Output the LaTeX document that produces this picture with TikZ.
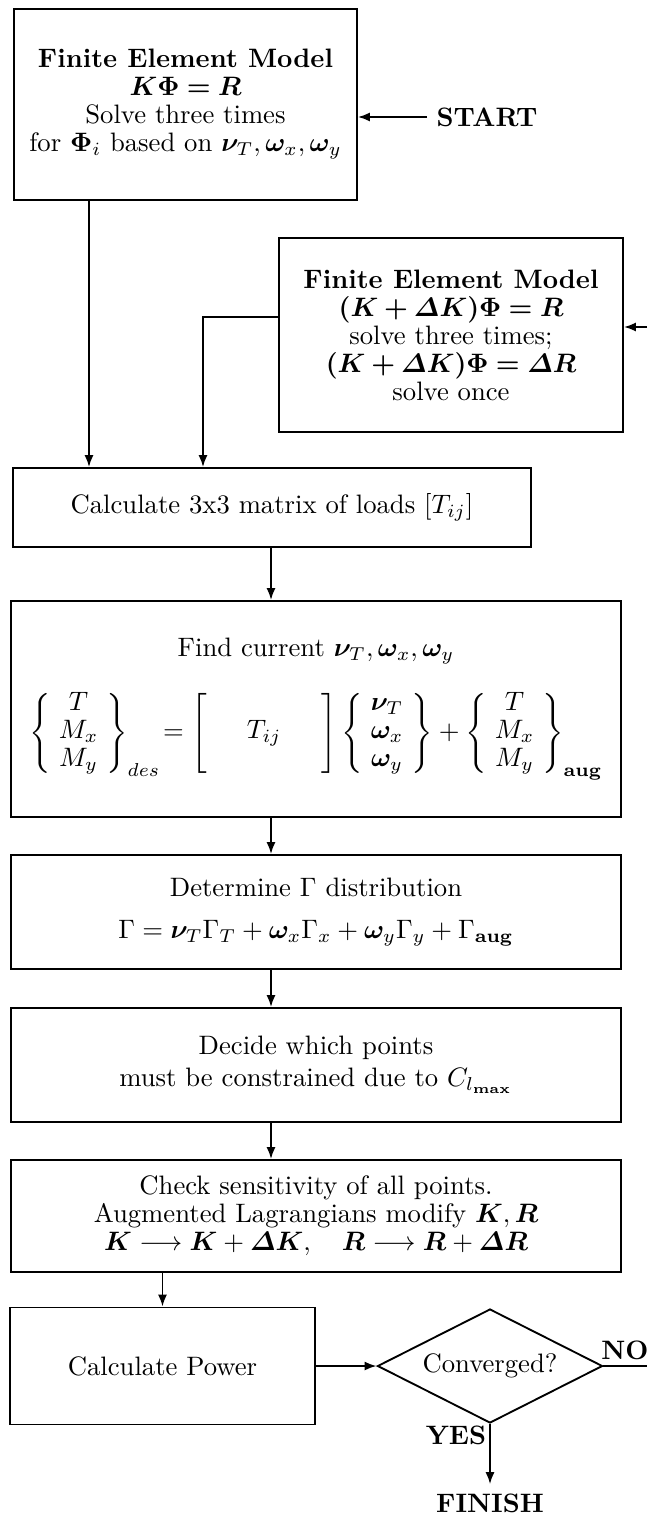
\documentclass[tikz,border=0pt]{standalone}
\usepackage{amsmath,amssymb,bm}
\usepackage{tikz}
\usetikzlibrary{arrows.meta}
\usetikzlibrary{shapes.geometric}

\begin{document}
\begin{tikzpicture}[x=0.375pt,y=-0.375pt,
    wire/.style={line width=0.7pt},
    box/.style={draw,wire,align=center,inner sep=0pt,font=\fontsize{10}{10.5}\selectfont},
    arr/.style={wire,-{Latex[length=4.5pt,width=3.4pt]}}]
  \useasboundingbox (0,0) rectangle (647,1515);
  % the two finite element solves
  \node[box,minimum width=128.6pt,minimum height=71.6pt] (fem) at (185.5,104.5)
    {\textbf{Finite Element Model}\\ $\bm{K\Phi=R}$\\ Solve three times\\
     for $\bm{\Phi}_i$ based on $\bm{\nu}_T,\bm{\omega}_x,\bm{\omega}_y$};
  \node[box,minimum width=129pt,minimum height=72.75pt] (femd) at (451,335)
    {\textbf{Finite Element Model}\\ $\bm{(K+\varDelta K)\Phi=R}$\\ solve three times;\\
     $\bm{(K+\varDelta K)\Phi=\varDelta R}$\\ solve once};
  \node (start) at (487,117) {\textbf{START}};
  % main column
  \node[box,minimum width=194.25pt,minimum height=29.6pt] (loads) at (272,507.5)
    {Calculate 3x3 matrix of loads $[T_{ij}]$};
  \node[box,minimum width=228.75pt,minimum height=81pt] (find) at (316,709)
    {Find current $\bm{\nu}_T,\bm{\omega}_x,\bm{\omega}_y$\\[9pt]
     $\setlength\arraycolsep{3pt}\displaystyle
      \left\{\begin{array}{c}T\\M_x\\M_y\end{array}\right\}_{des}
      \!= \left[\begin{array}{c}\mathstrut\\ \hspace{12pt}T_{ij}\hspace{12pt}\\ \mathstrut\end{array}\right]
      \left\{\begin{array}{c}\bm{\nu}_T\\ \bm{\omega}_x\\ \bm{\omega}_y\end{array}\right\}
      + \left\{\begin{array}{c}T\\M_x\\M_y\end{array}\right\}_{\mathbf{aug}}$};
  \node[box,minimum width=228.75pt,minimum height=42.75pt] (gam) at (316,912)
    {Determine $\Gamma$ distribution\\[5pt]
     $\Gamma=\bm{\nu}_T\Gamma_T+\bm{\omega}_x\Gamma_x+\bm{\omega}_y\Gamma_y+\Gamma_{\mathbf{aug}}$};
  \node[box,minimum width=228.75pt,minimum height=42.75pt] (decide) at (316,1065)
    {Decide which points\\[1.5pt] must be constrained due to $C_{l_{\mathbf{max}}}$};
  \node[box,minimum width=228.75pt,minimum height=42pt] (check) at (316,1216)
    {Check sensitivity of all points.\\ Augmented Lagrangians modify $\bm{K},\bm{R}$\\
     $\bm{K}\longrightarrow\bm{K}+\bm{\varDelta K},\quad\bm{R}\longrightarrow\bm{R}+\bm{\varDelta R}$};
  \node[box,minimum width=114.4pt,minimum height=43.9pt] (power) at (162.5,1366) {Calculate Power};
  \node[draw,wire,diamond,aspect=2,inner sep=0pt,minimum width=84.4pt,minimum height=42.75pt]
    (conv) at (490,1366) {Converged?};
  \node (no) at (625,1350) {\textbf{NO}};
  \node (yes) at (456,1435) {\textbf{YES}};
  \node (finish) at (490,1503) {\textbf{FINISH}};
  % connectors
  \coordinate (f1) at (89,0);
  \coordinate (f2) at (203,317);
  \coordinate (spine) at (271,0);
  \coordinate (back) at (647,327);
  \coordinate (noend) at (647,1366);
  \draw[arr] (start.west) -- (start.west -| fem.east);
  \draw[arr] (fem.south -| f1) -- (loads.north -| f1);
  \draw[arr] (femd.west |- f2) -- (f2) -- (loads.north -| f2);
  \draw[arr] (back) -- (femd.east |- back);
  \draw[arr] (loads.south -| spine) -- (find.north -| spine);
  \draw[arr] (find.south -| spine) -- (gam.north -| spine);
  \draw[arr] (gam.south -| spine) -- (decide.north -| spine);
  \draw[arr] (decide.south -| spine) -- (check.north -| spine);
  \draw[arr] (check.south -| power.north) -- (power.north);
  \draw[arr] (power.east) -- (conv.west);
  \draw[wire] (conv.east) -- (noend);
  \draw[arr] (conv.south) -- (finish.north);
\end{tikzpicture}
\end{document}
